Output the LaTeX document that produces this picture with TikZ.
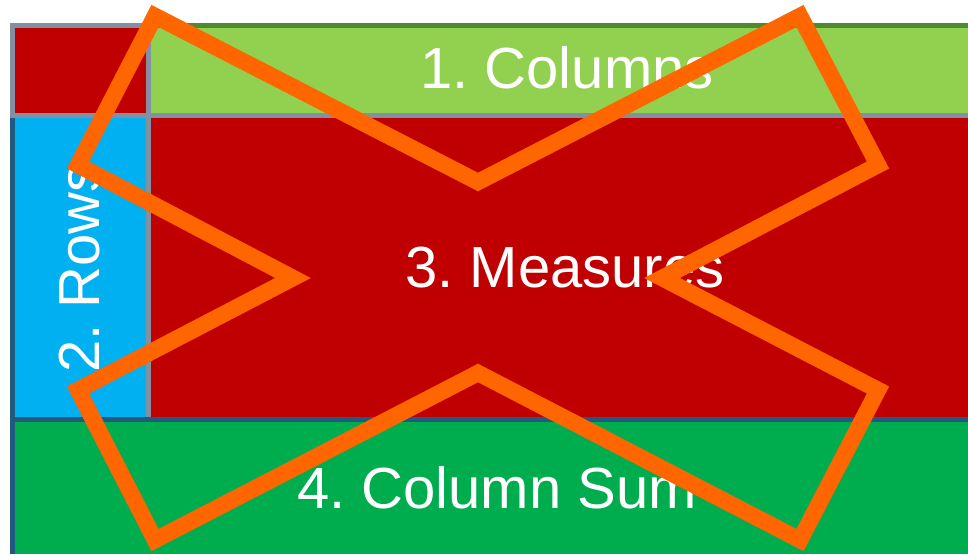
\documentclass[tikz,border=0pt]{standalone}
\usepackage{fontspec}
\setmainfont{Liberation Sans}
\definecolor{cRed}{HTML}{C00000}
\definecolor{cLGreen}{HTML}{92D050}
\definecolor{cBlue}{HTML}{00B0F0}
\definecolor{cGreen}{HTML}{00AD4E}
\definecolor{cGray}{HTML}{8290A2}
\definecolor{cDGreen}{HTML}{4E8A2E}
\definecolor{cDBlue}{HTML}{215A80}
\definecolor{cOrange}{HTML}{FF6600}
\begin{document}
\begin{tikzpicture}[x=1pt,y=-1pt,
  lbl/.style={text=white, font=\fontsize{58}{60}\selectfont\frenchspacing, inner sep=0pt},
  grayline/.style={draw=cGray, line width=5pt},
  dgline/.style={draw=cDGreen, line width=5pt},
  dbline/.style={draw=cDBlue, line width=5pt},
  xline/.style={draw=cOrange, line width=16.5pt, line join=miter, miter limit=10}]
\useasboundingbox (0,0) rectangle (968,554);
% fills
\fill[cRed] (12,26) rectangle (149,116);
\fill[cLGreen] (148,26) rectangle (968,116);
\fill[cBlue] (12,116) rectangle (149,420);
\fill[cRed] (148,116) rectangle (968,420);
\fill[cGreen] (12,420) rectangle (968,554);
% borders
\draw[dgline] (148,25.5) -- (968,25.5);
\draw[grayline] (10,25.5) -- (148,25.5);
\draw[grayline] (12.5,23) -- (12.5,117);
\draw[dbline] (12.5,117) -- (12.5,554);
\draw[grayline] (10,115.5) -- (968,115.5);
\draw[grayline] (148.5,23) -- (148.5,418);
\draw[dbline] (10,419.5) -- (968,419.5);
% labels
\node[lbl] (cols) at (567,68) {1. Columns};
\node[lbl, rotate=90] (rows) at (80,268) {2. Rows};
\node[lbl] (meas) at (565,268) {3. Measures};
\node[lbl] (sum) at (497,488) {4. Column Sum};
% cross
\draw[xline] (155,16) -- (478,182) -- (800,16) -- (878,165) -- (662,278) -- (878,390)
  -- (800,540) -- (478,373) -- (155,540) -- (78,390) -- (293,278) -- (78,165) -- cycle;
\end{tikzpicture}
\end{document}
